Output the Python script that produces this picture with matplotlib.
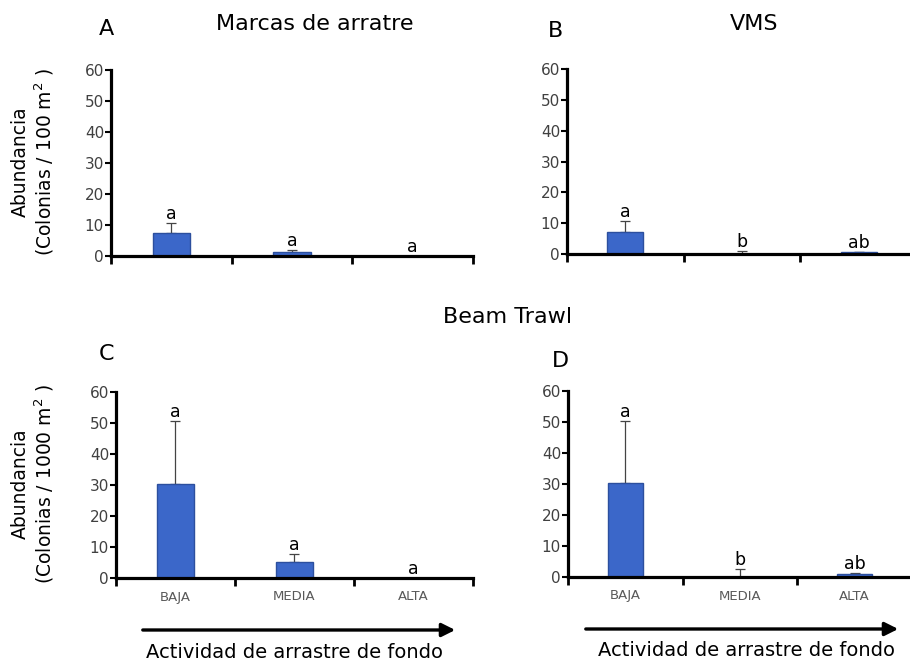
import numpy as np
import matplotlib
matplotlib.use('Agg')
import matplotlib.pyplot as plt
from matplotlib.patches import FancyArrowPatch

# data
categories = ['BAJA', 'MEDIA', 'ALTA']
# A: marcas de arrastre
a_mean = [7.4, 1.2, 0.0]
a_err = [3.2, 0.7, 0.0]
a_letters = ['a', 'a', 'a']
# B: VMS
b_mean = [7.1, 0.0, 0.6]
b_err = [3.6, 1.0, 0.2]
b_letters = ['a', 'b', 'ab']
# C: beam trawl / marcas
c_mean = [30.2, 5.2, 0.0]
c_err = [20.4, 2.5, 0.0]
c_letters = ['a', 'a', 'a']
# D: beam trawl / VMS
d_mean = [30.2, 0.0, 1.0]
d_err = [20.1, 2.5, 0.3]
d_letters = ['a', 'b', 'ab']

W, H = 910, 664
fig = plt.figure(figsize=(W / 100, H / 100), dpi=100)
plt.rcParams['font.family'] = 'DejaVu Sans'


def px_axes(left, right, bottom, top):
    # pixel box (from top-left) -> figure fraction
    return fig.add_axes([left / W, 1 - bottom / H, (right - left) / W, (bottom - top) / H])


def fpos(x, y):
    return (x / W, 1 - y / H)


def panel(ax, mean, err, letters, show_labels):
    x = np.arange(len(mean)) + 0.5
    yerr = [np.zeros(len(err)), err]
    ax.bar(x, mean, width=0.31, color='#3b67c9', edgecolor='#2c4f9e', linewidth=1, zorder=2)
    ax.errorbar(x, mean, yerr=yerr, fmt='none', ecolor='#444444', elinewidth=0.9,
                capsize=3.5, capthick=0.9, zorder=1)
    for xi, m, e, lab in zip(x, mean, err, letters):
        ax.text(xi, m + e + 1.3, lab, ha='center', va='baseline', fontsize=12.5, color='black')
    ax.set_xlim(0, 3)
    ax.set_ylim(0, 60)
    ax.set_yticks(range(0, 61, 10))
    ax.set_xticks([0, 1, 2, 3])
    ax.set_xticklabels([])
    if show_labels:
        ax.set_xticks(x, minor=True)
        ax.set_xticklabels(categories, minor=True, fontsize=9.5, color='#595959')
    ax.tick_params(axis='x', which='minor', length=0, pad=9)
    ax.tick_params(axis='x', which='major', direction='out', length=6, width=2, color='black')
    ax.tick_params(axis='y', direction='out', length=4, width=1.5, labelsize=11,
                   labelcolor='#404040', pad=1)
    for s in ['top', 'right']:
        ax.spines[s].set_visible(False)
    for s in ['left', 'bottom']:
        ax.spines[s].set_linewidth(2.3)
        ax.spines[s].set_color('black')
    ax.patch.set_alpha(0)


axA = px_axes(111, 473, 256, 70)
panel(axA, a_mean, a_err, a_letters, False)
axB = px_axes(567, 917, 254, 69)
panel(axB, b_mean, b_err, b_letters, False)
axC = px_axes(116, 473, 578, 392)
panel(axC, c_mean, c_err, c_letters, True)
axD = px_axes(568, 912, 577, 391)
panel(axD, d_mean, d_err, d_letters, True)

# y labels
fig.text(*fpos(20, 162), 'Abundancia', rotation=90, ha='center', va='center', fontsize=13.5)
fig.text(*fpos(44, 162), '(Colonias / 100 m$^{2}$ )', rotation=90, ha='center', va='center', fontsize=13.5)
fig.text(*fpos(20, 484), 'Abundancia', rotation=90, ha='center', va='center', fontsize=13.5)
fig.text(*fpos(44, 484), '(Colonias / 1000 m$^{2}$ )', rotation=90, ha='center', va='center', fontsize=13.5)

# titles and panel letters
fig.text(*fpos(315, 24), 'Marcas de arratre', ha='center', va='center', fontsize=16)
fig.text(*fpos(754, 24), 'VMS', ha='center', va='center', fontsize=16)
fig.text(*fpos(508, 317), 'Beam Trawl', ha='center', va='center', fontsize=16)
fig.text(*fpos(106, 29), 'A', ha='center', va='center', fontsize=16)
fig.text(*fpos(556, 31), 'B', ha='center', va='center', fontsize=16)
fig.text(*fpos(106, 354), 'C', ha='center', va='center', fontsize=16)
fig.text(*fpos(560, 361), 'D', ha='center', va='center', fontsize=16)

# arrows and axis caption
for x0, x1, y, tx, ty in [(140, 458, 630, 295, 653), (583, 901, 629, 747, 651)]:
    arr = FancyArrowPatch(fpos(x0, y), fpos(x1, y), transform=fig.transFigure,
                          arrowstyle='-|>,head_length=8,head_width=4', mutation_scale=1,
                          linewidth=2.4, color='black')
    fig.add_artist(arr)
    fig.text(*fpos(tx, ty), 'Actividad de arrastre de fondo', ha='center', va='center', fontsize=14)

fig.savefig('out.png', dpi=100)
